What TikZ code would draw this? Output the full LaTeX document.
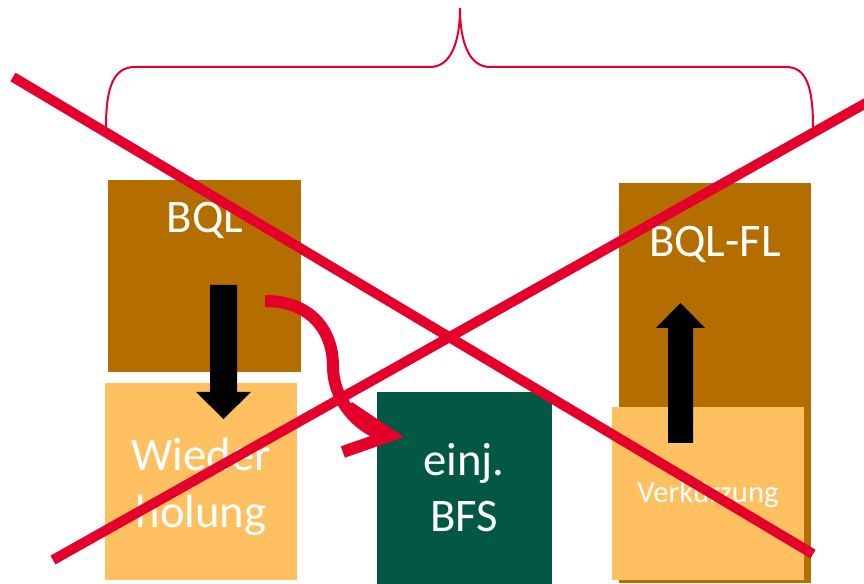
\documentclass[tikz,border=0pt]{standalone}
\usepackage{fontspec}
\setmainfont{Carlito}
\usetikzlibrary{arrows.meta,fit}
\definecolor{bqlbrown}{RGB}{180,110,0}
\definecolor{lightorange}{RGB}{254,192,96}
\definecolor{bfsgreen}{RGB}{2,88,66}
\definecolor{crossred}{RGB}{228,0,43}

\begin{document}
\begin{tikzpicture}[x=0.75pt,y=-0.75pt,
  block/.style={inner sep=0pt, outer sep=0pt, draw=none},
  boxlabel/.style={text=white, font=\fontsize{35}{42}\selectfont, anchor=base, inner sep=0pt},
  smalllabel/.style={text=white, font=\fontsize{23}{28}\selectfont, anchor=base, inner sep=0pt},
  blockarrow/.style={fill=black},
  strike/.style={draw=crossred, line width=7.5pt},
  bracestyle/.style={draw=crossred, line width=1.5pt},
  flow/.style={draw=crossred, line width=9pt,
    -{Straight Barb[length=34pt, width=34pt, line width=9pt]}}]

\useasboundingbox (0,0) rectangle (864,584);

% coloured blocks
\node[block, fill=bqlbrown, fit={(108,180) (301,372)}] (bql) {};
\node[block, fill=lightorange, fit={(105,383) (297,580)}] (wdh) {};
\node[block, fill=bfsgreen, fit={(377,392) (552,584)}] (bfs) {};
\node[block, fill=bqlbrown, fit={(619,183) (811,583)}] (bqlfl) {};
\node[block, fill=lightorange, fit={(612,407) (804,580)}] (vk) {};

% block texts
\node[boxlabel] (bqltext) at (205,233) {BQL};
\node[boxlabel] (wdhtext1) at (201,470) {Wieder};
\node[boxlabel] (wdhtext2) at (201,527) {holung};
\node[boxlabel] (bfstext1) at (464,475) {einj.};
\node[boxlabel] (bfstext2) at (464,531) {BFS};
\node[boxlabel] (bqlfltext) at (715,257) {BQL-FL};
\node[smalllabel] (vktext) at (708,503) {Verkürzung};

% black block arrows
\fill[blockarrow] (210,285) -- (237,285) -- (237,392) -- (251,392)
  -- (223.5,419) -- (196,392) -- (210,392) -- cycle;
\fill[blockarrow] (668,443) -- (693,443) -- (693,328) -- (705,328)
  -- (680.5,303) -- (656,328) -- (668,328) -- cycle;

% curved red arrow from BQL to the BFS block
\coordinate (flowstart) at (265,301);
\coordinate (flowend) at (404,437);
\draw[flow] (flowstart) .. controls (312,301) and (333,332) .. (333,366)
  .. controls (333,405) and (365,432) .. (flowend);

% brace over the blocks
\draw[bracestyle] (106,127) .. controls (106,86) and (114,67) .. (135,67)
  -- (430,67) .. controls (451,67) and (460,42) .. (460,8)
  .. controls (460,42) and (469,67) .. (490,67)
  -- (786,67) .. controls (806,67) and (813,86) .. (813,127);

% crossing strike-out lines
\coordinate (s1a) at (13,77);
\coordinate (s1b) at (813,554);
\coordinate (s2a) at (53,560);
\coordinate (s2b) at (866,103);
\draw[strike] (s1a) -- (s1b);
\draw[strike] (s2a) -- (s2b);
\end{tikzpicture}
\end{document}
